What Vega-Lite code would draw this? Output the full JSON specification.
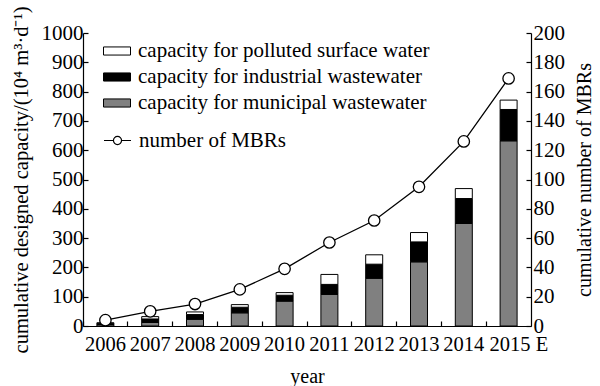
{
  "$schema": "https://vega.github.io/schema/vega-lite/v6.json",
  "width": 448,
  "height": 293,
  "autosize": "none",
  "padding": {"left": 83, "top": 33, "right": 69, "bottom": 60},
  "background": "white",
  "config": {
    "view": {"stroke": null},
    "font": "Liberation Serif",
    "axis": {
      "labelFont": "Liberation Serif",
      "titleFont": "Liberation Serif",
      "labelFontSize": 21,
      "titleFontSize": 20,
      "titleFontWeight": "normal",
      "labelColor": "black",
      "titleColor": "black",
      "domainColor": "black",
      "tickColor": "black",
      "domainWidth": 1.2,
      "tickWidth": 1.2,
      "labelOverlap": false,
      "grid": false
    },
    "legend": {
      "labelFont": "Liberation Serif",
      "labelFontSize": 21,
      "labelColor": "black",
      "labelLimit": 400
    }
  },
  "datasets": {
    "cap": [
      {"year": "2006", "type": "capacity for municipal wastewater", "capacity": 5, "rank": 1},
      {"year": "2006", "type": "capacity for industrial wastewater", "capacity": 4, "rank": 2},
      {"year": "2006", "type": "capacity for polluted surface water", "capacity": 2, "rank": 3},
      {"year": "2007", "type": "capacity for municipal wastewater", "capacity": 12, "rank": 1},
      {"year": "2007", "type": "capacity for industrial wastewater", "capacity": 12, "rank": 2},
      {"year": "2007", "type": "capacity for polluted surface water", "capacity": 8, "rank": 3},
      {"year": "2008", "type": "capacity for municipal wastewater", "capacity": 23, "rank": 1},
      {"year": "2008", "type": "capacity for industrial wastewater", "capacity": 16, "rank": 2},
      {"year": "2008", "type": "capacity for polluted surface water", "capacity": 9, "rank": 3},
      {"year": "2009", "type": "capacity for municipal wastewater", "capacity": 45, "rank": 1},
      {"year": "2009", "type": "capacity for industrial wastewater", "capacity": 19, "rank": 2},
      {"year": "2009", "type": "capacity for polluted surface water", "capacity": 9, "rank": 3},
      {"year": "2010", "type": "capacity for municipal wastewater", "capacity": 85, "rank": 1},
      {"year": "2010", "type": "capacity for industrial wastewater", "capacity": 20, "rank": 2},
      {"year": "2010", "type": "capacity for polluted surface water", "capacity": 9, "rank": 3},
      {"year": "2011", "type": "capacity for municipal wastewater", "capacity": 108, "rank": 1},
      {"year": "2011", "type": "capacity for industrial wastewater", "capacity": 34, "rank": 2},
      {"year": "2011", "type": "capacity for polluted surface water", "capacity": 34, "rank": 3},
      {"year": "2012", "type": "capacity for municipal wastewater", "capacity": 163, "rank": 1},
      {"year": "2012", "type": "capacity for industrial wastewater", "capacity": 48, "rank": 2},
      {"year": "2012", "type": "capacity for polluted surface water", "capacity": 32, "rank": 3},
      {"year": "2013", "type": "capacity for municipal wastewater", "capacity": 219, "rank": 1},
      {"year": "2013", "type": "capacity for industrial wastewater", "capacity": 68, "rank": 2},
      {"year": "2013", "type": "capacity for polluted surface water", "capacity": 32, "rank": 3},
      {"year": "2014", "type": "capacity for municipal wastewater", "capacity": 350, "rank": 1},
      {"year": "2014", "type": "capacity for industrial wastewater", "capacity": 85, "rank": 2},
      {"year": "2014", "type": "capacity for polluted surface water", "capacity": 34, "rank": 3},
      {"year": "2015", "type": "capacity for municipal wastewater", "capacity": 632, "rank": 1},
      {"year": "2015", "type": "capacity for industrial wastewater", "capacity": 107, "rank": 2},
      {"year": "2015", "type": "capacity for polluted surface water", "capacity": 32, "rank": 3}
    ],
    "mbr": [
      {"year": "2006", "count": 4},
      {"year": "2007", "count": 10},
      {"year": "2008", "count": 15},
      {"year": "2009", "count": 25},
      {"year": "2010", "count": 39},
      {"year": "2011", "count": 57},
      {"year": "2012", "count": 72},
      {"year": "2013", "count": 95},
      {"year": "2014", "count": 126},
      {"year": "2015", "count": 169}
    ]
  },
  "layer": [
    {
      "data": {"name": "cap"},
      "mark": {"type": "bar", "width": 17, "stroke": "black", "strokeWidth": 1},
      "encoding": {
        "x": {
          "field": "year",
          "type": "ordinal",
          "scale": {"paddingInner": 0, "paddingOuter": 0},
          "axis": {
            "title": "year",
            "labelAngle": 0,
            "labelFontSize": 20.5,
            "bandPosition": 0,
            "tickSize": -5,
            "labelPadding": 13,
            "titlePadding": 12,
            "labelExpr": "datum.label == '2015' ? '2015 E' : datum.label",
            "labelAlign": {"condition": {"test": "datum.value == '2015'", "value": "left"}, "value": "center"},
            "labelOffset": {"condition": {"test": "datum.value == '2015'", "value": -19}, "value": 0}
          }
        },
        "y": {
          "field": "capacity",
          "type": "quantitative",
          "stack": "zero",
          "scale": {"domain": [0, 1000], "nice": false},
          "axis": {
            "title": "cumulative designed capacity/(10⁴ m³·d⁻¹)",
            "titleFontSize": 20.5,
            "values": [0, 100, 200, 300, 400, 500, 600, 700, 800, 900, 1000],
            "format": "d",
            "labelOverlap": false,
            "tickSize": -5,
            "labelPadding": 5,
            "titlePadding": 10
          }
        },
        "fill": {
          "field": "type",
          "type": "nominal",
          "scale": {
            "domain": ["capacity for polluted surface water", "capacity for industrial wastewater", "capacity for municipal wastewater"],
            "range": ["white", "black", "#808080"]
          },
          "legend": {
            "title": null,
            "orient": "none",
            "legendX": 20,
            "legendY": 4,
            "symbolType": "M-1,-0.3H1V0.3H-1Z",
            "symbolSize": 729,
            "symbolStrokeColor": "black",
            "symbolStrokeWidth": 1,
            "labelOffset": 7,
            "rowPadding": 2
          }
        },
        "order": {"field": "rank", "type": "quantitative"}
      }
    },
    {
      "data": {"name": "mbr"},
      "encoding": {
        "x": {"field": "year", "type": "ordinal"},
        "y": {
          "field": "count",
          "type": "quantitative",
          "scale": {"domain": [0, 200], "nice": false},
          "axis": {
            "orient": "right",
            "title": "cumulative number of MBRs",
            "titleAngle": 270,
            "titleBaseline": "top",
            "values": [0, 20, 40, 60, 80, 100, 120, 140, 160, 180, 200],
            "format": "d",
            "labelOverlap": false,
            "tickSize": -5,
            "labelPadding": 7,
            "titlePadding": 10
          }
        }
      },
      "layer": [
        {
          "mark": {"type": "line", "color": "black", "strokeWidth": 1.3},
          "encoding": {
            "stroke": {
              "datum": "number of MBRs",
              "scale": {"range": ["black"]},
              "legend": {
                "title": null,
                "orient": "none",
                "legendX": 20,
                "legendY": 93,
                "symbolType": "M-1,0H-0.3M0.3,0H1M0.3,0A0.3,0.3 0 1,1 -0.3,0A0.3,0.3 0 1,1 0.3,0",
                "symbolSize": 729,
                "symbolStrokeWidth": 1.2,
                "labelOffset": 7
              }
            }
          }
        },
        {
          "mark": {"type": "point", "shape": "circle", "size": 130, "filled": true, "fill": "white", "stroke": "black", "strokeWidth": 1.3, "opacity": 1}
        }
      ]
    }
  ],
  "resolve": {"scale": {"y": "independent"}}
}
